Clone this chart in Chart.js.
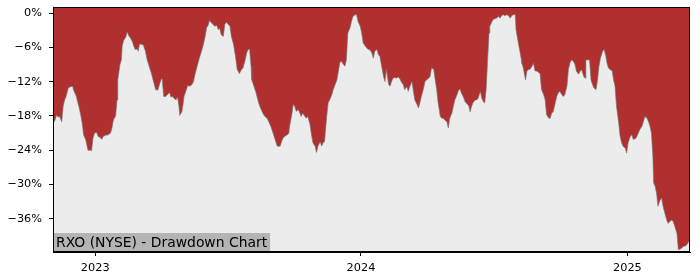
<!DOCTYPE html>
<html>
<head>
<meta charset="utf-8">
<script src="https://cdn.jsdelivr.net/npm/chart.js@4.4.1/dist/chart.umd.min.js"></script>
<style>
  html, body { margin: 0; padding: 0; background: #ffffff; }
  #chart { display: block; }
</style>
</head>
<body>
<canvas id="chart" width="700" height="280"></canvas>
<script>
// RXO drawdown
// days counted from the first trading day shown
const START_DATE = '2022-11-04';

const dayOffsets = [
  0, 2, 5, 7, 9, 12, 14, 16, 18, 21,
  24, 27, 28, 32, 36, 38, 40, 42, 45, 48,
  51, 53, 55, 57, 60, 62, 64, 67, 69, 72,
  76, 79, 81, 83, 86, 88, 89, 92, 94, 95,
  97, 100, 102, 104, 106, 109, 111, 113, 116, 117,
  119, 122, 124, 127, 129, 132, 135, 138, 141, 144,
  147, 149, 150, 152, 155, 157, 160, 162, 164, 166,
  169, 171, 173, 174, 177, 179, 180, 183, 185, 188,
  191, 193, 195, 198, 201, 204, 206, 209, 211, 213,
  215, 218, 220, 222, 225, 227, 229, 231, 234, 236,
  238, 240, 243, 245, 248, 251, 253, 256, 259, 261,
  264, 266, 268, 270, 272, 273, 276, 279, 282, 284,
  288, 291, 294, 297, 300, 303, 306, 308, 312, 314,
  316, 318, 322, 324, 325, 328, 330, 332, 334, 337,
  339, 341, 343, 346, 348, 350, 353, 355, 357, 360,
  362, 364, 367, 369, 371, 373, 376, 378, 380, 383,
  385, 387, 390, 392, 394, 396, 399, 401, 403, 405,
  408, 410, 412, 415, 417, 419, 422, 424, 426, 429,
  431, 433, 435, 438, 440, 442, 445, 447, 449, 451,
  454, 456, 458, 461, 463, 465, 467, 470, 472, 474,
  476, 479, 481, 483, 486, 488, 490, 493, 495, 497,
  500, 502, 504, 506, 509, 511, 513, 516, 518, 520,
  523, 525, 527, 529, 532, 534, 536, 538, 541, 543,
  545, 548, 550, 552, 555, 557, 559, 561, 564, 566,
  568, 571, 573, 575, 577, 580, 582, 584, 587, 589,
  591, 593, 595, 597, 599, 600, 603, 605, 609, 612,
  614, 616, 619, 621, 623, 626, 628, 630, 632, 635,
  636, 638, 640, 643, 644, 646, 649, 651, 653, 655,
  658, 660, 662, 665, 667, 669, 671, 674, 676, 678,
  681, 683, 685, 687, 690, 692, 694, 696, 699, 701,
  703, 706, 708, 710, 712, 715, 717, 719, 722, 724,
  726, 729, 731, 732, 734, 735, 737, 739, 741, 743,
  746, 748, 750, 752, 755, 757, 759, 761, 763, 765,
  768, 770, 772, 774, 777, 779, 781, 783, 786, 788,
  790, 793, 795, 797, 800, 802, 804, 806, 809, 811,
  813, 816, 818, 820, 822, 824, 825, 827, 829, 831,
  834, 836, 838, 841, 843, 845, 847, 850, 852, 854,
  857, 859, 861, 864, 866, 868, 871, 873, 875
];

const drawdownPct = [
  -17.8, -19, -17.9, -18.2, -18.1, -19, -16.3, -15.2, -14.6, -13.1,
  -12.9, -12.8, -13.4, -14.6, -16.6, -17.8, -19.2, -21.3, -22.2, -24,
  -24, -24.1, -21.9, -21, -20.9, -21.6, -21.7, -22.1, -21.6, -21.4,
  -21.3, -21, -20.1, -18.7, -18, -15.2, -11.7, -9, -8.2, -5.8,
  -4.8, -4.2, -3.3, -4, -4.3, -5, -5.8, -6.4, -6.3, -6.7,
  -5.4, -5.5, -5.6, -6.7, -8, -9.3, -10.5, -12, -13.4, -13.5,
  -12.2, -11.5, -11.6, -14.6, -14.6, -14.3, -13.9, -14.7, -14.6, -14.9,
  -15.2, -14.7, -16.3, -17.9, -17.3, -15.7, -14.6, -13.5, -12.7, -12.8,
  -12.5, -12, -10.8, -9.3, -7.9, -6.7, -5.8, -4.1, -2.6, -2.2,
  -1.3, -1.8, -2, -2.3, -2.2, -2.9, -2.7, -3.8, -4.1, -2,
  -1.6, -1.9, -2.3, -4.1, -5.5, -7.9, -9.9, -10.6, -9.9, -9.6,
  -8.2, -7, -6.4, -6.3, -9.3, -11.7, -12.8, -14, -15.5, -16.3,
  -17.5, -18.1, -18.4, -19.2, -20.1, -21.3, -22.5, -23.3, -23.3, -22.5,
  -21.9, -21.6, -21.3, -21, -19.8, -17.8, -16, -16.3, -17.2, -16.9,
  -17.5, -18.1, -17.5, -18.1, -18.4, -18.1, -19.5, -21.3, -22.7, -23.3,
  -24.4, -23.3, -22.5, -23.3, -22.7, -22.5, -18.1, -15.7, -15.2, -14.3,
  -13.4, -12.7, -11.7, -10.2, -8.7, -8.4, -9, -9.3, -8.2, -3.5,
  -2.6, -1.5, -0.6, -0.3, -0.3, -1.5, -2.3, -3.5, -5.2, -5.8,
  -6.1, -6.4, -6.4, -7, -7.9, -6.7, -6.4, -7.3, -7.6, -9,
  -11.1, -12, -9.9, -12.5, -12.8, -12, -11.4, -11.3, -11.4, -11.2,
  -11.4, -12.2, -12.5, -13.4, -12.9, -13.7, -12.9, -12, -13.7, -15.2,
  -16, -16.6, -15.7, -14.6, -13.2, -12, -11.7, -11.4, -11.1, -9.6,
  -9.9, -11.7, -13.4, -15.7, -18.1, -18.4, -18.4, -18.7, -19, -20.1,
  -18.4, -17.5, -16.3, -15.2, -14.3, -13.5, -13.3, -14, -14.8, -15.5,
  -15.8, -16.2, -17.3, -16.3, -15.7, -15.2, -15.2, -14.9, -13.7, -14.9,
  -15.5, -15.7, -13.4, -8.2, -3.5, -2.3, -1.5, -1.1, -0.9, -0.6,
  -0.9, -0.5, -0.3, -0.5, -0.3, -0.5, -0.9, -0.5, -0.3, -0.3,
  -2.9, -4.4, -5.8, -7.9, -8.8, -9.6, -11.7, -10.2, -9.9, -9.9,
  -9.3, -8.8, -10.1, -10.2, -10.4, -10.6, -13.4, -14.3, -15.2, -17.8,
  -18.4, -18.4, -17.5, -17.3, -15.7, -14.6, -14, -13.7, -14.3, -14.6,
  -14.3, -12.8, -9.9, -8.8, -8.2, -8.5, -9, -10.2, -10.7, -10.2,
  -9.9, -11.1, -11.4, -8.2, -8.2, -8.2, -8.2, -11.7, -12.5, -13.1,
  -13.4, -11.7, -9.3, -7.9, -6.7, -6.4, -7.3, -8.8, -9.6, -9.9,
  -10.1, -11.7, -12.8, -16.3, -19.2, -21.6, -22.7, -23.3, -23.6, -24.5,
  -22.7, -21.6, -21.3, -22.1, -22, -21.6, -21, -20.4, -19.8, -19,
  -18.1, -18.4, -19, -19.8, -21, -25.1, -29.7, -30.3, -31.5, -33.8,
  -32.7, -32.4, -33.8, -35.3, -36.2, -36.8, -36.5, -36.2, -36.5, -37.3,
  -38.5, -41.4, -41.3, -41.1, -40.8, -40.8, -40.5, -40, -40
];

const xTickDates = ['2023-01-01', '2024-01-01', '2025-01-01'];
const xTickLabels = ['2023', '2024', '2025'];
const yTickValues = [0, -6, -12, -18, -24, -30, -36];
const yTickLabels = ['0%', '\u22126%', '\u221212%', '\u221218%', '\u221224%', '\u221230%', '\u221236%'];

const CHART_TITLE = 'RXO (NYSE) - Drawdown Chart';

const FILL_RED = '#b03030';
const PANEL_GRAY = '#ececec';

if (dayOffsets.length !== drawdownPct.length) {
    console.error('data length mismatch', dayOffsets.length, drawdownPct.length);
}

function daysFromStart(iso) {
    return Math.round((Date.parse(iso) - Date.parse(START_DATE)) / 86400000);
}

const xTickDays = xTickDates.map(daysFromStart);

// panel background + border frame + label box
const panelPlugin = {
    id: 'panel',
    beforeDatasetsDraw(chart) {
        const { ctx, chartArea: a } = chart;
        ctx.save();
        ctx.fillStyle = PANEL_GRAY;
        ctx.fillRect(a.left, a.top, a.right - a.left, a.bottom - a.top);
        ctx.restore();
    },
    afterDatasetsDraw(chart) {
        const { ctx, chartArea: a } = chart;
        ctx.save();
        ctx.font = '13.9px "DejaVu Sans"';
        const w = ctx.measureText(CHART_TITLE).width;
        ctx.fillStyle = '#b4b4b4';
        ctx.fillRect(a.left, a.bottom - 19, w + 6, 19);
        ctx.fillStyle = '#000000';
        ctx.textBaseline = 'alphabetic';
        ctx.fillText(CHART_TITLE, a.left + 3, a.bottom - 5);
        ctx.strokeStyle = '#000000';
        ctx.lineWidth = 1;
        ctx.strokeRect(a.left + 0.5, a.top + 0.5, a.right - a.left - 1, a.bottom - a.top - 1);
        ctx.restore();
    }
};

Chart.defaults.font.family = '"DejaVu Sans", sans-serif';
Chart.defaults.font.size = 11.3;
Chart.defaults.color = '#000000';

const ctx = document.getElementById('chart').getContext('2d');

new Chart(ctx, {
    type: 'line',
    data: {
        datasets: [{
            data: dayOffsets.map((d, i) => ({ x: d, y: drawdownPct[i] })),
            fill: 'end',
            backgroundColor: FILL_RED,
            borderColor: 'rgba(120,120,120,0.8)',
            borderWidth: 0.8,
            pointRadius: 0,
            tension: 0
        }]
    },
    options: {
        responsive: false,
        animation: false,
        devicePixelRatio: 1,
        layout: { padding: { left: 0, right: 10, top: 7, bottom: 0 } },
        plugins: {
            legend: { display: false },
            tooltip: { enabled: false }
        },
        scales: {
            x: {
                type: 'linear',
                min: 0,
                max: dayOffsets[dayOffsets.length - 1],
                afterBuildTicks: (scale) => {
                    scale.ticks = xTickDays.map(v => ({ value: v }));
                },
                afterFit: (scale) => {
                    scale.height = 28;
                    scale.paddingLeft = 0;
                    scale.paddingRight = 0;
                },
                ticks: {
                    autoSkip: false,
                    maxRotation: 0,
                    padding: 5,
                    callback: (value) => xTickLabels[xTickDays.indexOf(value)]
                },
                grid: {
                    drawOnChartArea: false,
                    drawTicks: true,
                    tickLength: 4,
                    color: '#000000'
                },
                border: { display: true, color: '#000000', width: 1 }
            },
            y: {
                min: -41.8,
                max: 1.05,
                afterBuildTicks: (scale) => {
                    scale.ticks = yTickValues.map(v => ({ value: v }));
                },
                afterFit: (scale) => {
                    scale.width = 53;
                    scale.paddingTop = 0;
                    scale.paddingBottom = 0;
                },
                ticks: {
                    autoSkip: false,
                    padding: 7,
                    callback: (value) => yTickLabels[yTickValues.indexOf(value)]
                },
                grid: {
                    drawOnChartArea: false,
                    drawTicks: true,
                    tickLength: 4,
                    color: '#000000'
                },
                border: { display: true, color: '#000000', width: 1 }
            }
        }
    },
    plugins: [panelPlugin]
});
</script>
</body>
</html>
